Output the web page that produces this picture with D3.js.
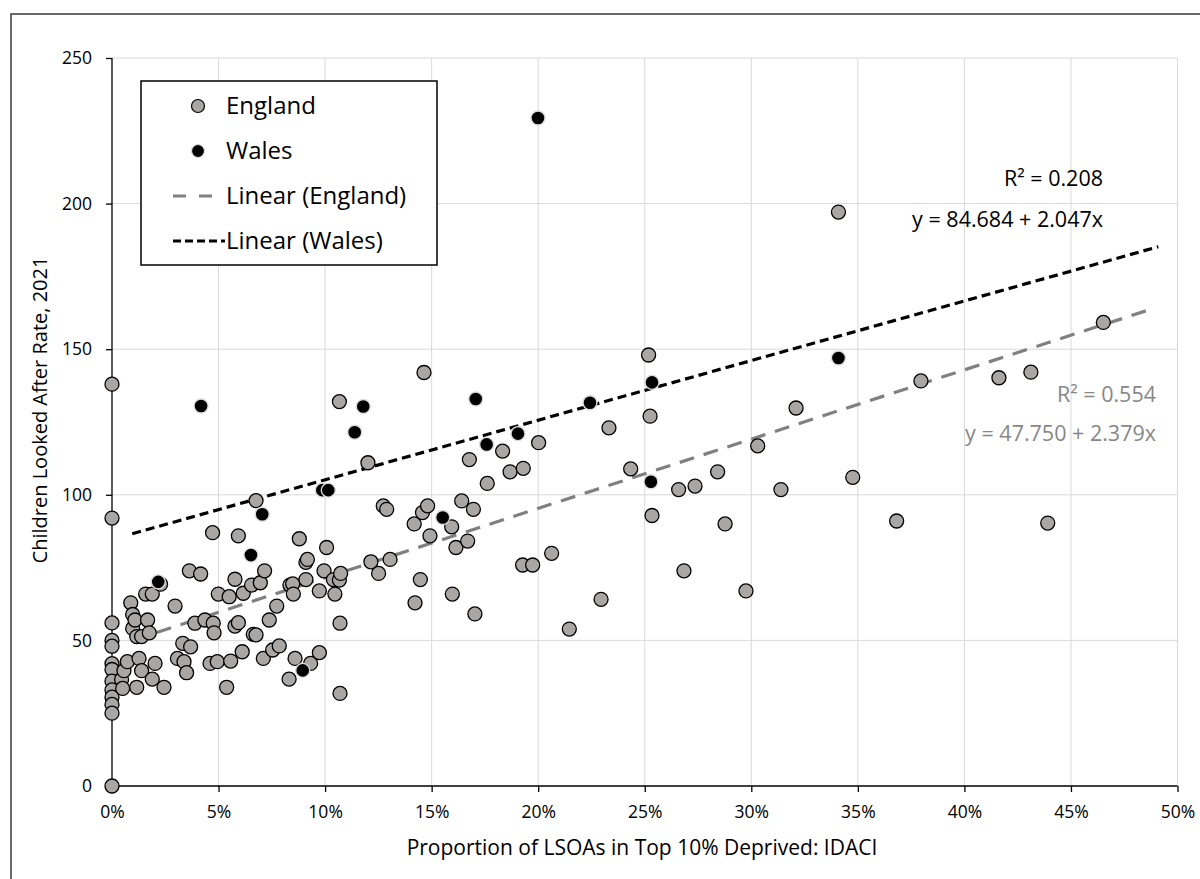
<!DOCTYPE html>
<html>
<head>
<meta charset="utf-8">
<script src="https://cdn.jsdelivr.net/npm/d3@7"></script>
<style>
  body { margin: 0; background: #ffffff; }
  svg { display: block; }
</style>
</head>
<body>
<script>
// Children looked after rate vs share of LSOAs in the 10% most deprived (IDACI)

// England local authorities: [proportion %, rate]
var englandData = [
  [0, 138], [0, 92], [0, 56], [0, 50], [0, 48], [0, 42], [0, 40], [0, 36], [0, 33], [0, 30.5], [0, 28], [0, 25], [0, 0],
  [0.45, 36.6], [0.5, 33.5], [0.56, 39.6], [0.72, 42.7], [0.88, 62.9], [0.97, 58.9], [0.97, 54.1], [1.08, 57],
  [1.16, 51.3], [1.16, 33.9], [1.27, 43.8], [1.39, 51.3], [1.39, 39.6], [1.58, 65.9], [1.67, 57], [1.75, 52.6],
  [1.89, 65.9], [1.89, 36.7], [2.02, 42.1], [2.28, 69.3], [2.44, 33.9], [2.96, 61.8], [3.07, 43.8], [3.32, 49],
  [3.38, 42.7], [3.5, 38.9], [3.63, 73.9], [3.69, 47.8], [3.89, 55.9], [4.16, 72.8], [4.36, 57], [4.6, 42.1],
  [4.72, 87], [4.75, 55.9], [4.79, 52.6], [4.94, 42.7], [4.99, 65.9], [5.38, 33.9], [5.5, 65], [5.57, 42.9],
  [5.77, 71], [5.77, 54.9], [5.93, 85.9], [5.93, 56.1], [6.11, 46.1], [6.16, 66.2], [6.55, 69], [6.63, 52.1],
  [6.76, 51.9], [6.76, 98], [6.96, 69.8], [7.1, 43.8], [7.16, 73.9], [7.38, 57], [7.54, 46.7], [7.73, 61.8],
  [7.85, 48.1], [8.31, 36.7], [8.35, 69], [8.48, 69.4], [8.51, 65.9], [8.59, 43.8], [8.79, 84.9], [9.1, 76.8],
  [9.17, 77.8], [9.1, 70.9], [9.32, 42.1], [9.73, 67], [9.73, 45.8], [9.95, 73.9], [10.07, 81.9], [10.39, 70.9],
  [10.46, 65.9], [10.67, 70.7], [10.67, 132], [10.73, 73], [10.7, 55.9], [10.7, 31.8], [12.01, 111], [12.15, 77],
  [12.51, 73], [12.73, 96.2], [12.89, 95], [13.05, 77.8], [14.18, 90], [14.22, 62.9], [14.47, 70.9], [14.57, 93.9],
  [14.64, 142], [14.81, 96.2], [14.92, 85.9], [15.94, 89], [15.97, 65.9], [16.14, 81.9], [16.41, 97.9], [16.69, 84.1],
  [16.77, 112.1], [16.96, 95], [17.03, 59.1], [17.61, 103.9], [18.33, 115], [18.68, 107.9], [19.3, 109.1],
  [19.27, 75.9], [19.74, 75.9], [20.02, 117.9], [20.63, 79.9], [21.46, 53.9], [22.95, 64.1], [23.32, 123],
  [24.34, 108.9], [25.18, 148], [25.25, 127], [25.34, 92.9], [26.59, 101.8], [26.84, 73.9], [27.36, 103],
  [28.42, 107.9], [28.77, 90], [29.75, 67], [30.3, 116.8], [31.39, 101.8], [32.1, 129.8], [34.09, 197.1],
  [34.76, 106], [36.82, 91], [37.96, 139.1], [41.62, 140.2], [43.12, 142.1], [43.91, 90.3], [46.52, 159.2]
];

// Welsh local authorities
var walesData = [
  [2.17, 70.1], [4.18, 130.5], [6.52, 79.3], [7.05, 93.3], [8.95, 39.7], [9.87, 101.6], [10.15, 101.6],
  [11.39, 121.5], [11.79, 130.3], [15.52, 92.2], [17.07, 132.9], [17.58, 117.3], [19.05, 121], [19.99, 229.4],
  [22.43, 131.6], [25.34, 138.6], [25.29, 104.5], [34.09, 147]
];

// linear fits as printed on the chart: [intercept, slope], and x extent of each line
var englandFit = [47.750, 2.379];
var walesFit = [84.684, 2.047];
var englandFitRange = [2.1, 48.9];
var walesFitRange = [0.95, 49.1];
var fitLabels = ["R\u00b2 = 0.208", "y = 84.684 + 2.047x", "R\u00b2 = 0.554", "y = 47.750 + 2.379x"];

var xTicks = [0, 5, 10, 15, 20, 25, 30, 35, 40, 45, 50];
var yTicks = [0, 50, 100, 150, 200, 250];
var legendLabels = ["England", "Wales", "Linear (England)", "Linear (Wales)"];

var W = 1200, H = 879;
var font = "'Open Sans', 'DejaVu Sans', sans-serif";

var svg = d3.select("body").append("svg")
  .attr("width", W)
  .attr("height", H);

// outer chart border (runs off the right and bottom edge)
svg.append("rect")
  .attr("x", 11).attr("y", 14)
  .attr("width", W + 20).attr("height", H + 20)
  .attr("fill", "#fff")
  .attr("stroke", "#3a3a3a")
  .attr("stroke-width", 1.5);

var x = d3.scaleLinear().domain([0, 50]).range([112, 1177.5]);
var y = d3.scaleLinear().domain([0, 250]).range([786, 58]);

// gridlines
svg.append("g").selectAll("line").data(xTicks.slice(1)).enter().append("line")
  .attr("x1", function (d) { return x(d); })
  .attr("x2", function (d) { return x(d); })
  .attr("y1", y(0)).attr("y2", y(250))
  .attr("stroke", "#d9d9d9").attr("stroke-width", 1);
svg.append("g").selectAll("line").data(yTicks.slice(1)).enter().append("line")
  .attr("x1", x(0)).attr("x2", x(50))
  .attr("y1", function (d) { return y(d); })
  .attr("y2", function (d) { return y(d); })
  .attr("stroke", "#d9d9d9").attr("stroke-width", 1);

// axes
var xAxis = svg.append("g")
  .attr("transform", "translate(0," + y(0) + ")")
  .call(d3.axisBottom(x).tickValues(xTicks).tickSize(6).tickPadding(14)
    .tickFormat(function (d) { return d + "%"; }));
var yAxis = svg.append("g")
  .attr("transform", "translate(" + x(0) + ",0)")
  .call(d3.axisLeft(y).tickValues(yTicks).tickSize(6).tickPadding(14));

[xAxis, yAxis].forEach(function (a) {
  a.select(".domain").attr("stroke", "#000").attr("stroke-width", 1.3);
  a.selectAll(".tick line").attr("stroke", "#000").attr("stroke-width", 1.3);
  a.selectAll("text").attr("font-family", font).attr("font-size", 17.5).attr("fill", "#000");
});
// no outer tick stubs beyond the domain
xAxis.select(".domain").attr("d", "M" + x(0) + ",0H" + x(50));
yAxis.select(".domain").attr("d", "M0," + y(0) + "V" + y(250));

// axis titles
svg.append("text")
  .attr("x", 642).attr("y", 855)
  .attr("text-anchor", "middle")
  .attr("font-family", font).attr("font-size", 21)
  .text("Proportion of LSOAs in Top 10% Deprived: IDACI");

svg.append("text")
  .attr("transform", "translate(39," + 410 + ") rotate(-90)")
  .attr("text-anchor", "middle")
  .attr("dominant-baseline", "central")
  .attr("font-family", font)
  .attr("font-size", 20)
  .text("Children Looked After Rate, 2021");

// trend lines
function fitLine(fit, range) {
  return range.map(function (v) { return [v, fit[0] + fit[1] * v]; });
}
var line = d3.line()
  .x(function (d) { return x(d[0]); })
  .y(function (d) { return y(d[1]); });

svg.append("path")
  .datum(fitLine(englandFit, englandFitRange))
  .attr("d", line)
  .attr("fill", "none")
  .attr("stroke", "#808080")
  .attr("stroke-width", 3.2)
  .attr("stroke-dasharray", "15,10");

svg.append("path")
  .datum(fitLine(walesFit, walesFitRange))
  .attr("d", line)
  .attr("fill", "none")
  .attr("stroke", "#000")
  .attr("stroke-width", 3.2)
  .attr("stroke-dasharray", "9,5");

// points
svg.append("g").selectAll("circle").data(englandData).enter().append("circle")
  .attr("cx", function (d) { return x(d[0]); })
  .attr("cy", function (d) { return y(d[1]); })
  .attr("r", 7)
  .attr("fill", "#a9a6a6")
  .attr("stroke", "#000")
  .attr("stroke-width", 1.3);

svg.append("g").selectAll("circle").data(walesData).enter().append("circle")
  .attr("cx", function (d) { return x(d[0]); })
  .attr("cy", function (d) { return y(d[1]); })
  .attr("r", 7)
  .attr("fill", "#000")
  .attr("stroke", "#dcdcdc")
  .attr("stroke-width", 1.4);

// regression labels
var labelPos = [[1103, 178, "#000"], [1103, 219, "#000"], [1156, 394, "#878787"], [1156, 433, "#878787"]];
svg.append("g").selectAll("text").data(fitLabels).enter().append("text")
  .attr("x", function (d, i) { return labelPos[i][0]; })
  .attr("y", function (d, i) { return labelPos[i][1]; })
  .attr("dy", "0.35em")
  .attr("text-anchor", "end")
  .attr("font-family", font).attr("font-size", 21.5)
  .attr("fill", function (d, i) { return labelPos[i][2]; })
  .text(function (d) { return d; });

// legend
var legend = svg.append("g");
legend.append("rect")
  .attr("x", 141).attr("y", 81)
  .attr("width", 296).attr("height", 184)
  .attr("fill", "#fff")
  .attr("stroke", "#000")
  .attr("stroke-width", 1.5);

var rowY = [106, 151, 196, 241];
var item = legend.selectAll("g.item").data(legendLabels).enter().append("g")
  .attr("class", "item")
  .attr("transform", function (d, i) { return "translate(0," + rowY[i] + ")"; });

item.append("text")
  .attr("x", 226).attr("dy", "0.35em")
  .attr("font-family", font).attr("font-size", 24)
  .text(function (d) { return d; });

item.filter(function (d, i) { return i === 0; }).append("circle")
  .attr("cx", 198).attr("r", 6.5)
  .attr("fill", "#a9a6a6").attr("stroke", "#000").attr("stroke-width", 1.2);
item.filter(function (d, i) { return i === 1; }).append("circle")
  .attr("cx", 198).attr("r", 6.5)
  .attr("fill", "#000").attr("stroke", "#dcdcdc").attr("stroke-width", 1.2);
item.filter(function (d, i) { return i === 2; }).append("line")
  .attr("x1", 173).attr("x2", 212)
  .attr("stroke", "#808080").attr("stroke-width", 3.2)
  .attr("stroke-dasharray", "13,13");
item.filter(function (d, i) { return i === 3; }).append("line")
  .attr("x1", 173).attr("x2", 225)
  .attr("stroke", "#000").attr("stroke-width", 3.2)
  .attr("stroke-dasharray", "8,4");
</script>
</body>
</html>
